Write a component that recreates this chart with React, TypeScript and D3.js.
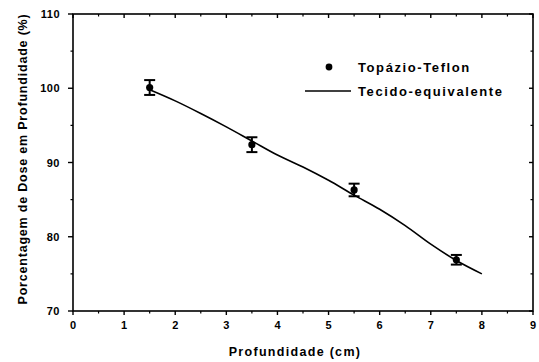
import React from "react";
import * as d3 from "d3";

const pointDepth = [1.5, 3.5, 5.5, 7.5];
const pointDose = [100.1, 92.4, 86.3, 76.9];
const pointErr = [1.0, 1.0, 0.85, 0.65];

const lineDepth = [1.5, 2, 2.5, 3, 3.5, 4, 4.5, 5, 5.5, 6, 6.5, 7, 7.5, 8];
const lineDose = [99.8, 98.3, 96.6, 94.8, 92.9, 91.0, 89.4, 87.6, 85.6, 83.7, 81.5, 79.0, 76.8, 75.0];

const xTicks = [0, 1, 2, 3, 4, 5, 6, 7, 8, 9];
const yTicks = [70, 80, 90, 100, 110];

const seriesNames = ["Topázio-Teflon", "Tecido-equivalente"];

export default function App() {
  const W = 539, H = 362;
  const L = 73, R = 533, T = 14, B = 311;
  const x = d3.scaleLinear().domain([0, 9]).range([L, R]);
  const y = d3.scaleLinear().domain([70, 110]).range([B, T]);
  const line = d3.line<number>()
    .x((_, i) => x(lineDepth[i]))
    .y((d) => y(d))
    .curve(d3.curveMonotoneX);
  const xMinor = d3.range(0.5, 9, 1);
  const yMinor = d3.range(75, 110, 10);
  const font = "'Liberation Sans', Arial, sans-serif";
  return (
    <svg width={W} height={H} style={{ position: "absolute", left: 0, top: 0, background: "#fff" }}
      fontFamily={font} fontWeight="bold">
      <rect x={0} y={0} width={W} height={H} fill="#fff" />
      {/* frame */}
      <rect x={L} y={T} width={R - L} height={B - T} fill="none" stroke="#000" strokeWidth={1.6} />
      {/* bottom ticks */}
      {xTicks.map((t) => (
        <g key={"xt" + t}>
          <line x1={x(t)} x2={x(t)} y1={B} y2={B + 4} stroke="#000" strokeWidth={1.4} />
          <line x1={x(t)} x2={x(t)} y1={T} y2={T + 4} stroke="#000" strokeWidth={1.4} />
          <text x={x(t)} y={B + 18} textAnchor="middle" fontSize={11}>{t}</text>
        </g>
      ))}
      {xMinor.map((t) => (
        <g key={"xm" + t}>
          <line x1={x(t)} x2={x(t)} y1={B} y2={B + 2.5} stroke="#000" strokeWidth={1.2} />
          <line x1={x(t)} x2={x(t)} y1={T} y2={T + 2.5} stroke="#000" strokeWidth={1.2} />
        </g>
      ))}
      {yTicks.map((t) => (
        <g key={"yt" + t}>
          <line x1={L - 5} x2={L} y1={y(t)} y2={y(t)} stroke="#000" strokeWidth={1.4} />
          <line x1={R - 4} x2={R} y1={y(t)} y2={y(t)} stroke="#000" strokeWidth={1.4} />
          <text x={L - 13} y={y(t) + 4} textAnchor="end" fontSize={11} letterSpacing={0.5}>{t}</text>
        </g>
      ))}
      {yMinor.map((t) => (
        <g key={"ym" + t}>
          <line x1={L - 2.5} x2={L} y1={y(t)} y2={y(t)} stroke="#000" strokeWidth={1.2} />
          <line x1={R - 2.5} x2={R} y1={y(t)} y2={y(t)} stroke="#000" strokeWidth={1.2} />
        </g>
      ))}
      {/* line */}
      <path d={line(lineDose) || ""} fill="none" stroke="#000" strokeWidth={1.6} />
      {/* points with error bars */}
      {pointDepth.map((d, i) => {
        const cx = x(d), cy = y(pointDose[i]);
        const y1 = y(pointDose[i] + pointErr[i]), y2 = y(pointDose[i] - pointErr[i]);
        return (
          <g key={"p" + i}>
            <line x1={cx} x2={cx} y1={y1} y2={y2} stroke="#000" strokeWidth={2} />
            <line x1={cx - 5.5} x2={cx + 5.5} y1={y1} y2={y1} stroke="#000" strokeWidth={2} />
            <line x1={cx - 5.5} x2={cx + 5.5} y1={y2} y2={y2} stroke="#000" strokeWidth={2} />
            <circle cx={cx} cy={cy} r={3.6} fill="#000" />
          </g>
        );
      })}
      {/* legend */}
      <circle cx={329} cy={67} r={3.4} fill="#000" />
      <text x={358} y={71.5} fontSize={13} letterSpacing={1.6}>{seriesNames[0]}</text>
      <line x1={305} x2={351} y1={91} y2={91} stroke="#000" strokeWidth={1.6} />
      <text x={358} y={95.5} fontSize={13} letterSpacing={1.6}>{seriesNames[1]}</text>
      {/* axis titles */}
      <text x={295} y={356} textAnchor="middle" fontSize={12.5} letterSpacing={1.3}>Profundidade (cm)</text>
      <text transform={`translate(27, ${159}) rotate(-90)`} textAnchor="middle" fontSize={12.5}
        letterSpacing={0.8}>Porcentagem de Dose em Profundidade (%)</text>
    </svg>
  );
}
